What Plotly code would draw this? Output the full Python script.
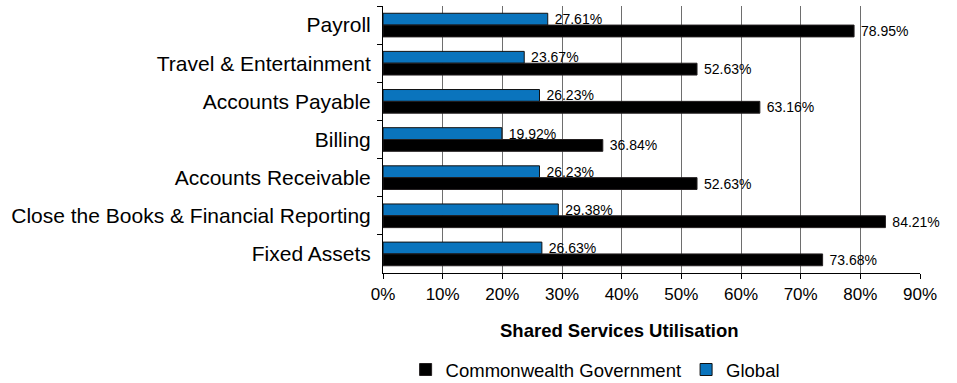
import plotly.graph_objects as go

categories = [
    "Payroll",
    "Travel & Entertainment",
    "Accounts Payable",
    "Billing",
    "Accounts Receivable",
    "Close the Books & Financial Reporting",
    "Fixed Assets",
]
global_pct = [27.61, 23.67, 26.23, 19.92, 26.23, 29.38, 26.63]
commonwealth_pct = [78.95, 52.63, 63.16, 36.84, 52.63, 84.21, 73.68]
x_ticks = [0, 10, 20, 30, 40, 50, 60, 70, 80, 90]

font_family = "Liberation Sans, Arial, sans-serif"

fig = go.Figure()
fig.add_trace(go.Bar(
    y=categories, x=global_pct, orientation="h", name="Global",
    marker=dict(color="#0A74BD", line=dict(color="#111111", width=1)),
    text=[f"\u00a0{v:.2f}%" for v in global_pct], textposition="outside",
    constraintext="none",
    textfont=dict(size=14, color="#000000", family=font_family),
    cliponaxis=False, legendrank=2,
))
fig.add_trace(go.Bar(
    y=categories, x=commonwealth_pct, orientation="h", name="Commonwealth Government",
    marker=dict(color="#000000", line=dict(color="#231F20", width=1)),
    text=[f"\u00a0{v:.2f}%" for v in commonwealth_pct], textposition="outside",
    constraintext="none",
    textfont=dict(size=14, color="#000000", family=font_family),
    cliponaxis=False, legendrank=1,
))

fig.update_layout(
    width=957, height=383,
    margin=dict(l=383, r=37, t=6, b=110, autoexpand=False),
    paper_bgcolor="white", plot_bgcolor="white",
    barmode="group", bargap=0.38, bargroupgap=0,
    font=dict(family=font_family, color="#000000"),
    showlegend=True,
    legend=dict(
        orientation="h", x=0.395, xanchor="center",
        yref="container", y=0.034, yanchor="middle",
        font=dict(size=18.5), itemwidth=30, traceorder="normal",
    ),
    annotations=[dict(
        text="<b>Shared Services Utilisation</b>", xref="paper", yref="paper",
        x=0.44, y=-0.215, xanchor="center", yanchor="middle", showarrow=False,
        font=dict(size=18.5),
    )],
)
fig.update_xaxes(
    range=[0, 90], tickvals=x_ticks, ticktext=[f"{t}%" for t in x_ticks],
    showgrid=True, gridcolor="#6E6E6E", gridwidth=1,
    showline=True, linecolor="#000000", linewidth=1,
    ticks="outside", ticklen=5, tickcolor="#000000",
    tickfont=dict(size=17), ticklabelstandoff=1, zeroline=False,
)
fig.update_yaxes(
    autorange="reversed", tickson="boundaries",
    showline=True, linecolor="#000000", linewidth=1,
    ticks="outside", ticklen=5, tickcolor="#000000",
    tickfont=dict(size=21), ticklabelstandoff=7, showgrid=False,
)

fig.write_html("out.html")
